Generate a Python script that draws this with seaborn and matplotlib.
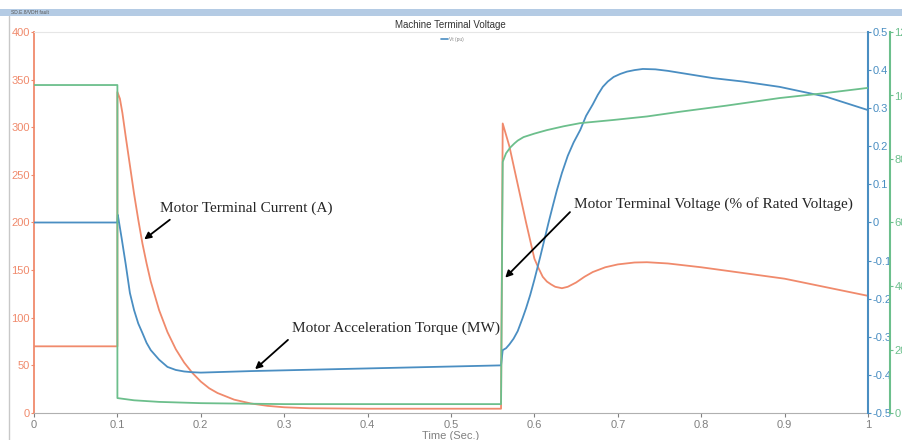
import numpy as np
import matplotlib
matplotlib.use("Agg")
import matplotlib.pyplot as plt
import seaborn as sns
from matplotlib.lines import Line2D
from matplotlib.patches import Rectangle

# motor current (A), left axis
cur_t = [0, 0.1, 0.1, 0.103, 0.106, 0.11, 0.115, 0.12, 0.125, 0.13, 0.135, 0.14, 0.15, 0.16,
         0.17, 0.18, 0.19, 0.2, 0.21, 0.22, 0.24, 0.26, 0.28, 0.3, 0.33, 0.4, 0.56, 0.562,
         0.57, 0.58, 0.59, 0.6, 0.605, 0.61, 0.615, 0.62, 0.625, 0.633, 0.64, 0.65, 0.66,
         0.67, 0.685, 0.7, 0.72, 0.735, 0.76, 0.8, 0.9, 1.0]
cur_v = [70, 70, 337, 330, 315, 290, 260, 230, 203, 178, 157, 138, 108, 85,
         67, 53, 42, 33, 26, 21, 14, 10, 7.5, 6, 5, 4.5, 4.5, 304,
         280, 240, 200, 162, 152, 143, 138, 135, 132.5, 131, 132.5, 137, 143,
         148, 153, 156, 158, 158.3, 157, 153, 141, 123]

# acceleration torque (MW), inner right axis
torque_t = [0, 0.1, 0.1005, 0.105, 0.11, 0.115, 0.12, 0.125, 0.13, 0.135, 0.14, 0.15, 0.16,
            0.17, 0.18, 0.19, 0.2, 0.26, 0.4, 0.56, 0.562, 0.566, 0.57, 0.575, 0.58, 0.586,
            0.59, 0.595, 0.6, 0.607, 0.612, 0.617, 0.622, 0.627, 0.633, 0.64, 0.647, 0.655,
            0.662, 0.67, 0.676, 0.682, 0.688, 0.695, 0.703, 0.711, 0.72, 0.73, 0.745, 0.76,
            0.814, 0.85, 0.894, 0.95, 1.0]
torque_v = [0, 0, 0.02, -0.04, -0.11, -0.185, -0.23, -0.265, -0.29, -0.316, -0.335, -0.36, -0.379,
            -0.387, -0.391, -0.393, -0.394, -0.39, -0.383, -0.375, -0.335, -0.33, -0.32, -0.305,
            -0.285, -0.25, -0.225, -0.19, -0.15, -0.09, -0.045, 0.0, 0.043, 0.085, 0.13, 0.175,
            0.21, 0.243, 0.28, 0.31, 0.335, 0.356, 0.37, 0.382, 0.39, 0.396, 0.4, 0.403, 0.402,
            0.398, 0.379, 0.37, 0.356, 0.33, 0.295]

# terminal voltage (% rated), outer right axis
volt_t = [0, 0.1, 0.1, 0.12, 0.15, 0.2, 0.3, 0.56, 0.562, 0.566, 0.571, 0.576, 0.58, 0.587,
          0.6, 0.615, 0.635, 0.655, 0.695, 0.735, 0.775, 0.83, 0.894, 0.95, 1.0]
volt_v = [103.3, 103.3, 4.7, 4.0, 3.5, 3.1, 2.8, 2.8, 79.1, 81.8, 83.6, 84.9, 85.8, 86.9,
          88.0, 89.1, 90.3, 91.3, 92.3, 93.4, 94.9, 96.8, 99.2, 100.8, 102.4]

x_ticks = [0, 0.1, 0.2, 0.3, 0.4, 0.5, 0.6, 0.7, 0.8, 0.9, 1]
x_labels = ["0", "0.1", "0.2", "0.3", "0.4", "0.5", "0.6", "0.7", "0.8", "0.9", "1"]
cur_ticks = [0, 50, 100, 150, 200, 250, 300, 350, 400]
torque_ticks = [-0.5, -0.4, -0.3, -0.2, -0.1, 0, 0.1, 0.2, 0.3, 0.4, 0.5]
volt_ticks = [0, 20, 40, 60, 80, 100, 120]

orange = "#f08a6c"
blue = "#4a8ec2"
green = "#6cbf8c"
grey = "#808080"

sns.set_style("white")
plt.rcParams['font.family'] = ['Liberation Sans', 'DejaVu Sans']

fig = plt.figure(figsize=(9.03, 4.4), dpi=100)
ax = fig.add_axes([34 / 903, 27 / 440, 834 / 903, 381 / 440])
ax2 = ax.twinx()
ax3 = ax.twinx()

sns.lineplot(x=cur_t, y=cur_v, ax=ax, color=orange, lw=1.3, estimator=None, sort=False)
sns.lineplot(x=torque_t, y=torque_v, ax=ax2, color=blue, lw=1.3, estimator=None, sort=False)
sns.lineplot(x=volt_t, y=volt_v, ax=ax3, color=green, lw=1.3, estimator=None, sort=False)

ax.set_xlim(0, 1)
ax.set_ylim(0, 400)
ax2.set_ylim(-0.5, 0.5)
ax3.set_ylim(0, 120)

ax.set_xticks(x_ticks)
ax.set_xticklabels(x_labels)
ax.set_yticks(cur_ticks)
ax2.set_yticks(torque_ticks)
ax2.set_yticklabels([f"{v:g}" for v in torque_ticks])
ax3.set_yticks(volt_ticks)

ax.tick_params(axis="x", bottom=True, colors=grey, labelsize=8, length=3, pad=2)
ax.tick_params(axis="y", left=True, colors=orange, labelsize=8, length=2, pad=1)
ax2.tick_params(axis="y", right=True, colors=blue, labelsize=8, length=2, pad=1)
ax3.tick_params(axis="y", right=True, colors=green, labelsize=8, length=2, pad=1)

for a in (ax, ax2, ax3):
    for s in a.spines.values():
        s.set_visible(False)
ax.spines["left"].set_visible(True)
ax.spines["left"].set_color(orange)
ax.spines["left"].set_linewidth(1.3)
ax.spines["bottom"].set_visible(True)
ax.spines["bottom"].set_color("#b0b0b0")
ax.spines["top"].set_visible(True)
ax.spines["top"].set_color("#e6e6e6")
ax2.spines["right"].set_visible(True)
ax2.spines["right"].set_color(blue)
ax2.spines["right"].set_linewidth(1.5)
ax3.spines["right"].set_visible(True)
ax3.spines["right"].set_color(green)
ax3.spines["right"].set_linewidth(1.5)
ax3.spines["right"].set_position(("outward", 16))

ax.set_ylabel("")
ax2.set_ylabel("")
ax3.set_ylabel("")
ax.set_xlabel("Time (Sec.)", fontsize=8, color=grey, labelpad=1)

# annotations
serif = "Liberation Serif"
arrow = dict(arrowstyle="-|>", color="black", lw=1.3, mutation_scale=10)

ax3.text(0.151, 215, "Motor Terminal Current (A)", transform=ax.transData,
         family=serif, fontsize=11, va="center")
ax3.annotate("", xy=(0.1295, np.interp(0.1295, cur_t, cur_v)), xycoords=ax.transData,
             xytext=(0.1655, 204.7), textcoords=ax.transData, arrowprops=arrow)

ax3.text(0.309, 89, "Motor Acceleration Torque (MW)", transform=ax.transData,
         family=serif, fontsize=11, va="center")
ax3.annotate("", xy=(0.2626, np.interp(0.2626, torque_t, torque_v)), xycoords=ax2.transData,
             xytext=(0.307, 78.7), textcoords=ax.transData, arrowprops=arrow)

ax3.text(0.6475, 219, "Motor Terminal Voltage (% of Rated Voltage)", transform=ax.transData,
         family=serif, fontsize=11, va="center")
ax3.annotate("", xy=(0.5627, 42), xycoords=ax3.transData,
             xytext=(0.645, 213), textcoords=ax.transData, arrowprops=arrow)

# title, tiny legend and window frame
fig.text(450 / 903, 1 - 25 / 440, "Machine Terminal Voltage", fontsize=7,
         color="#333333", ha="center", va="center")
fig.add_artist(Line2D([441 / 903, 448 / 903], [1 - 39 / 440, 1 - 39 / 440],
                      color=blue, lw=1.2, transform=fig.transFigure))
fig.text(449 / 903, 1 - 39 / 440, "Vt (pu)", fontsize=3.5, color="#888888", va="center")
fig.add_artist(Rectangle((0, 1 - 16 / 440), 1, 7 / 440, transform=fig.transFigure,
                         facecolor="#b4cbe4", edgecolor="none"))
fig.text(11 / 903, 1 - 12.5 / 440, "SD.E.8/VDH fault", fontsize=3.5, color="#555555", va="center")
fig.add_artist(Line2D([9 / 903, 9 / 903], [0, 1 - 16 / 440], color="#c8c8c8", lw=1,
                      transform=fig.transFigure))

fig.savefig("out.png", dpi=100)
